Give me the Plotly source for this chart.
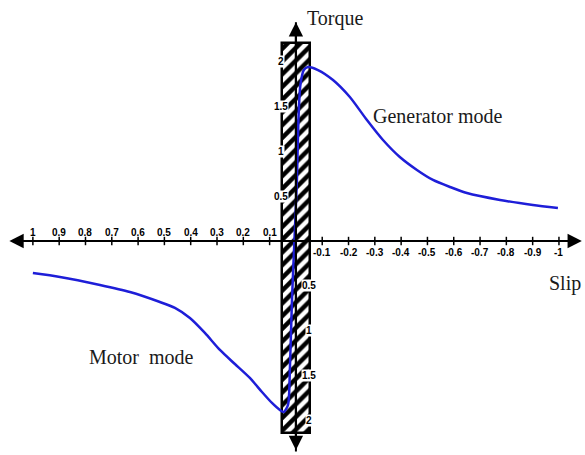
import plotly.graph_objects as go

# ---- data ----
slip = [1.0, 0.897, 0.745, 0.631, 0.517, 0.46, 0.403, 0.346, 0.289, 0.232, 0.175,
        0.129, 0.091, 0.061, 0.046, 0.030, 0.023, 0.015, 0.0057, -0.0038, -0.0095,
        -0.017, -0.030, -0.046, -0.084, -0.141, -0.205, -0.27, -0.331, -0.395,
        -0.46, -0.521, -0.586, -0.65, -0.776, -0.901, -0.996]
torque = [-0.356, -0.40, -0.489, -0.567, -0.678, -0.744, -0.856, -1.022, -1.211,
          -1.367, -1.522, -1.678, -1.80, -1.878, -1.90, -1.82, -1.43, -0.656, 0.0,
          0.678, 1.344, 1.733, 1.90, 1.933, 1.90, 1.789, 1.60, 1.344, 1.122, 0.933,
          0.789, 0.678, 0.60, 0.533, 0.456, 0.40, 0.367]

x_ticks_pos = [1, 0.9, 0.8, 0.7, 0.6, 0.5, 0.4, 0.3, 0.2, 0.1]
x_labels_pos = ["1", "0.9", "0.8", "0.7", "0.6", "0.5", "0.4", "0.3", "0.2", "0.1"]
x_ticks_neg = [-0.1, -0.2, -0.3, -0.4, -0.5, -0.6, -0.7, -0.8, -0.9, -1]
x_labels_neg = ["-0.1", "-0.2", "-0.3", "-0.4", "-0.5", "-0.6", "-0.7", "-0.8", "-0.9", "-1"]
y_ticks_pos = [2, 1.5, 1, 0.5]
y_labels_pos = ["2", "1.5", "1", "0.5"]
y_ticks_neg = [-0.5, -1, -1.5, -2]
y_labels_neg = ["0.5", "1", "1.5", "2"]

band_slip = [0.053, -0.053]     # hatched zone around synchronous speed
band_torque = [-2.133, 2.2]
axis_x = [-1.087, 1.095]        # horizontal axis extent (slip)
axis_y = [-2.34, 2.43]          # vertical axis extent (torque)

W, H = 585, 455
XR = [1.125, -1.099]
YR = [-2.378, 2.678]

fig = go.Figure()

# hatched band
fig.add_trace(go.Bar(
    x=[(band_slip[0] + band_slip[1]) / 2], y=[band_torque[1] - band_torque[0]],
    base=[band_torque[0]], width=[band_slip[0] - band_slip[1]],
    marker=dict(color="white", line=dict(color="black", width=2.5),
                pattern=dict(shape="/", fgcolor="black", bgcolor="white",
                             size=9, solidity=0.5, fgopacity=1)),
    showlegend=False, hoverinfo="skip"))

# vertical axis line
fig.add_trace(go.Scatter(x=[0, 0], y=axis_y, mode="lines",
                         line=dict(color="black", width=2),
                         showlegend=False, hoverinfo="skip"))

# torque-slip curve
fig.add_trace(go.Scatter(x=slip, y=torque, mode="lines",
                         line=dict(color="#1e1ed8", width=2.5, shape="spline", smoothing=0.7),
                         showlegend=False, hoverinfo="skip"))

# x tick marks
fig.add_trace(go.Scatter(x=x_ticks_pos + x_ticks_neg, y=[0] * (len(x_ticks_pos) + len(x_ticks_neg)),
                         mode="markers",
                         marker=dict(symbol="line-ns-open", size=6, color="black",
                                     line=dict(color="black", width=1.5)),
                         showlegend=False, hoverinfo="skip"))

ann = []
# axes with arrows
ann.append(dict(x=axis_x[0], y=0, ax=axis_x[1], ay=0, xref="x", yref="y", axref="x", ayref="y",
                text="", showarrow=True, arrowhead=2, arrowsize=1.3, arrowwidth=2.2,
                arrowside="end+start", arrowcolor="black"))
ann.append(dict(x=0, y=axis_y[1], ax=0, ay=axis_y[0], xref="x", yref="y", axref="x", ayref="y",
                text="", showarrow=True, arrowhead=2, arrowsize=1.3, arrowwidth=2.2,
                arrowside="end+start", arrowcolor="black"))

tick_font = dict(family="Liberation Sans", size=10, color="black")
for v, t in zip(x_ticks_pos, x_labels_pos):
    ann.append(dict(x=v, y=0, xref="x", yref="y", text="<b>%s</b>" % t, showarrow=False,
                    font=tick_font, yshift=9))
for v, t in zip(x_ticks_neg, x_labels_neg):
    ann.append(dict(x=v, y=0, xref="x", yref="y", text="<b>%s</b>" % t, showarrow=False,
                    font=tick_font, yshift=-11))
for v, t in zip(y_ticks_pos, y_labels_pos):
    ann.append(dict(x=0, y=v, xref="x", yref="y", text="<b>%s</b>" % t, showarrow=False,
                    font=tick_font, xshift=-15, bgcolor="white", borderpad=0))
for v, t in zip(y_ticks_neg, y_labels_neg):
    ann.append(dict(x=0, y=v, xref="x", yref="y", text="<b>%s</b>" % t, showarrow=False,
                    font=tick_font, xshift=13, bgcolor="white", borderpad=0))

serif = dict(family="Liberation Serif", size=20, color="#1a1a1a")
def px(xp, yp):
    return xp / W, 1 - yp / H
for text, (xp, yp) in [("Torque", (335, 19)), ("Slip", (565, 283)),
                       ("Generator mode", (438, 116)), ("Motor  mode", (141, 357))]:
    xx, yy = px(xp, yp)
    ann.append(dict(x=xx, y=yy, xref="paper", yref="paper", text=text.replace("  ", "&nbsp; "),
                    showarrow=False, font=serif, xanchor="center", yanchor="middle"))

fig.update_layout(
    width=W, height=H, margin=dict(l=0, r=0, t=0, b=0),
    paper_bgcolor="white", plot_bgcolor="white",
    xaxis=dict(range=XR, visible=False, fixedrange=True),
    yaxis=dict(range=YR, visible=False, fixedrange=True),
    annotations=ann, showlegend=False, bargap=0,
)

fig.write_html("out.html", config={"displayModeBar": False},
               post_script="document.body.style.margin='0px';")
